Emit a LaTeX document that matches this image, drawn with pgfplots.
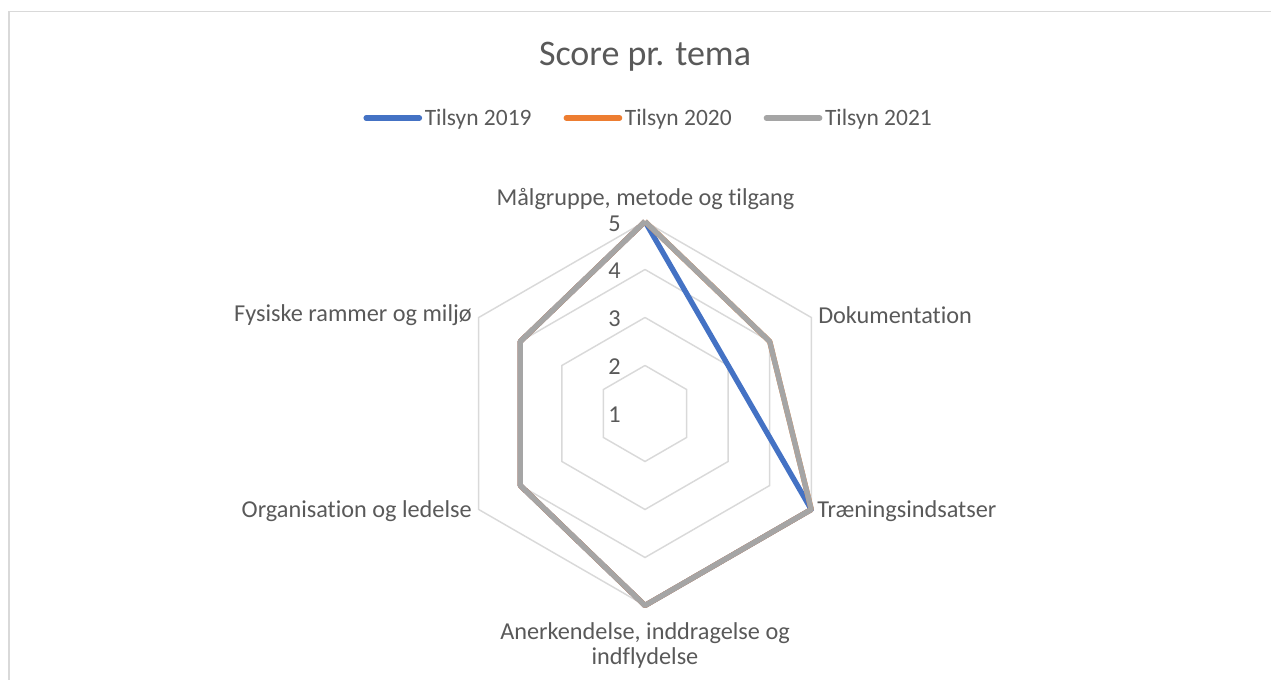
\documentclass[border=0pt]{standalone}
\usepackage{fontspec}
\setmainfont{Carlito}[Ligatures=NoCommon]
\usepackage{pgfplots}
\pgfplotsset{compat=1.18}
\usepackage{pgfplotstable}
\definecolor{c19}{HTML}{4472C4}
\definecolor{c20}{HTML}{ED7D31}
\definecolor{c21}{HTML}{A5A5A5}
\definecolor{gridc}{HTML}{D9D9D9}
\definecolor{txt}{HTML}{595959}

% angle of each theme axis and score per inspection
\pgfplotstableread{
angle v2019 v2020 v2021
90   5 5 5
30   3 4 4
-30  5 5 5
-90  5 5 5
-150 4 4 4
150  4 4 4
90   5 5 5
}\scores

\begin{document}
\begin{tikzpicture}
\begin{axis}[
  name=ax, anchor=south west, at={(0,0)},
  x=36pt, y=36pt,
  xmin=-13.4375, xmax=13.0417, ymin=-5.552, ymax=8.6146,
  hide axis, clip=false,
  legend style={draw=none, fill=none, at={(0.5106,0.8265)}, anchor=center,
    legend columns=3, font=\fontsize{17.6}{20}\selectfont, text=txt,
    /tikz/every even column/.append style={column sep=22pt},
    nodes={inner xsep=2pt}},
  legend image code/.code={\draw[#1, line width=4pt, line cap=round] (0pt,0pt) -- (40pt,0pt);},
]
% frame
\draw[gridc, line width=1.2pt] (axis cs:-13.25,-5.552) -- (axis cs:-13.25,8.375) -- (axis cs:13.0417,8.375);
% hexagonal grid
\pgfplotsinvokeforeach{1,2,3,4}{
  \addplot[gridc, line width=1.1pt, forget plot] table[x expr={#1*cos(\thisrow{angle})}, y expr={#1*sin(\thisrow{angle})}] {\scores};
}
\addplot[c19, line width=4pt, line join=round] table[x expr={(\thisrow{v2019}-1)*cos(\thisrow{angle})}, y expr={(\thisrow{v2019}-1)*sin(\thisrow{angle})}] {\scores};
\addlegendentry{Tilsyn 2019}
\addplot[c20, line width=4pt, line join=round] table[x expr={(\thisrow{v2020}-1)*cos(\thisrow{angle})}, y expr={(\thisrow{v2020}-1)*sin(\thisrow{angle})}] {\scores};
\addlegendentry{Tilsyn 2020}
\addplot[c21, line width=4pt, line join=round] table[x expr={(\thisrow{v2021}-1)*cos(\thisrow{angle})}, y expr={(\thisrow{v2021}-1)*sin(\thisrow{angle})}] {\scores};
\addlegendentry{Tilsyn 2021}
% title
\node[txt, font=\fontsize{27}{32}\selectfont] at (axis cs:0,7.427) {Score pr. tema};
% radial tick labels
\begin{scope}[every node/.style={txt, font=\fontsize{18.2}{20}\selectfont, anchor=east, inner sep=0pt}]
\node at (axis cs:-0.5,-0.03) {1};
\node at (axis cs:-0.5,0.97) {2};
\node at (axis cs:-0.5,1.97) {3};
\node at (axis cs:-0.5,2.97) {4};
\node at (axis cs:-0.5,3.96) {5};
\end{scope}
% category labels
\begin{scope}[every node/.style={txt, font=\fontsize{18.2}{20}\selectfont, inner sep=0pt}]
\node[anchor=center] at (axis cs:0.01,4.469) {Målgruppe, metode og tilgang};
\node[anchor=west] at (axis cs:3.604,2.052) {Dokumentation};
\node[anchor=west] at (axis cs:3.583,-2.031) {Træningsindsatser};
\node[anchor=center, align=center, font=\fontsize{18.2}{18.75}\selectfont] at (axis cs:0,-4.833) {Anerkendelse, inddragelse og\\indflydelse};
\node[anchor=east] at (axis cs:-3.604,-2.031) {Organisation og ledelse};
\node[anchor=east] at (axis cs:-3.604,2.052) {Fysiske rammer og miljø};
\end{scope}
\end{axis}
\pgfresetboundingbox
\path[use as bounding box] (ax.south west) rectangle (ax.north east);
\end{tikzpicture}
\end{document}
